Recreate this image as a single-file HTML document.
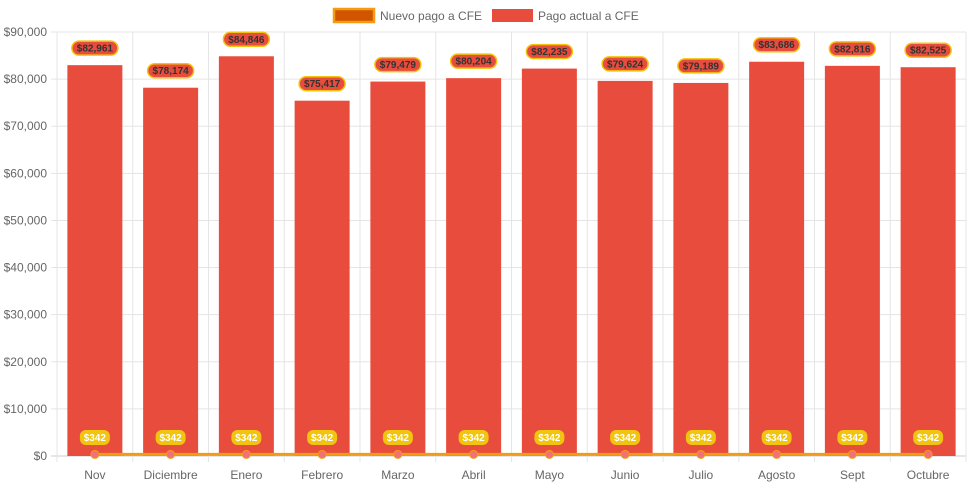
<!DOCTYPE html>
<html><head><meta charset="utf-8"><style>
body{margin:0;background:#fff;font-family:"Liberation Sans",sans-serif;}
svg text{font-family:"Liberation Sans",sans-serif;}
</style></head><body>
<svg id="c" width="971" height="485" xmlns="http://www.w3.org/2000/svg">
<g>
<g>
<rect x="334" y="9" width="40" height="13" fill="#d35400" stroke="#f39c12" stroke-width="2.5"/>
<text x="380" y="20" font-size="12" fill="#666">Nuevo pago a CFE</text></g>
<g>
<rect x="492" y="9" width="41" height="13" fill="#e74c3c"/>
<text x="538" y="20" font-size="12" fill="#666">Pago actual a CFE</text></g>
</g>
</svg>
<script>
const categories=["Nov","Diciembre","Enero","Febrero","Marzo","Abril","Mayo","Junio","Julio","Agosto","Sept","Octubre"];
const actual=[82961,78174,84846,75417,79479,80204,82235,79624,79189,83686,82816,82525];
const nuevo=[342,342,342,342,342,342,342,342,342,342,342,342];
const yTicks=[0,10000,20000,30000,40000,50000,60000,70000,80000,90000];
const svg=document.getElementById('c');const NS='http://www.w3.org/2000/svg';
const L=57,R=966,T=32,B=456,yMax=90000;
const bw=(R-L)/categories.length;
const x=i=>L+bw*(i+0.5);
const y=v=>B-(v/yMax)*(B-T);
const fmt=v=>'$'+v.toLocaleString('en-US');
function mk(t,a,p){const e=document.createElementNS(NS,t);for(const k in a)e.setAttribute(k,a[k]);(p||svg).appendChild(e);return e;}
const grid=mk('g',{});


yTicks.forEach(v=>{
 mk('line',{x1:L-6,x2:R,y1:y(v),y2:y(v),stroke:v===0?'#ccc':'#e5e5e5'},grid);
 const t=mk('text',{x:L-10,y:y(v)+4,'text-anchor':'end','font-size':12,fill:'#666'});
 t.textContent=fmt(v);
 
 
});
for(let i=0;i<=categories.length;i++){mk('line',{x1:L+bw*i,x2:L+bw*i,y1:T,y2:B+6,stroke:'#e5e5e5'},grid);}
categories.forEach((c,i)=>{
 const t=mk('text',{x:x(i),y:479,'text-anchor':'middle','font-size':12,fill:'#666'});
 t.textContent=c;
 
 
});
actual.forEach((v,i)=>{
 const r=mk('rect',{x:x(i)-27.5,y:y(v),width:55,height:B-y(v),fill:'#e74c3c'});
 
 
 const g=mk('g',{});
 
 
 const cy=y(v)-17;
 mk('rect',{x:x(i)-23,y:cy-7,width:46,height:14,rx:7,fill:'#e74c3c',stroke:'#f1c40f','stroke-width':1.5},g);
 const t=mk('text',{x:x(i),y:cy+3.5,'text-anchor':'middle','font-size':10,'font-weight':'bold',fill:'#333'},g);
 t.textContent=fmt(v);
});
const pts=nuevo.map((v,i)=>x(i)+','+y(v)).join(' ');
const ln=mk('polyline',{points:pts,fill:'none',stroke:'#f39c12','stroke-width':3});


nuevo.forEach((v,i)=>{
 const p=mk('circle',{cx:x(i),cy:y(v),r:4,fill:'#f1707a',stroke:'#f39c12','stroke-width':1});
 
 
 const g=mk('g',{});
 
 
 mk('rect',{x:x(i)-15,y:430,width:30,height:15,rx:6,fill:'#f1c40f'},g);
 const t=mk('text',{x:x(i),y:441,'text-anchor':'middle','font-size':10,'font-weight':'bold',fill:'#fff'},g);
 t.textContent=fmt(v);
});
</script>
</body></html>
